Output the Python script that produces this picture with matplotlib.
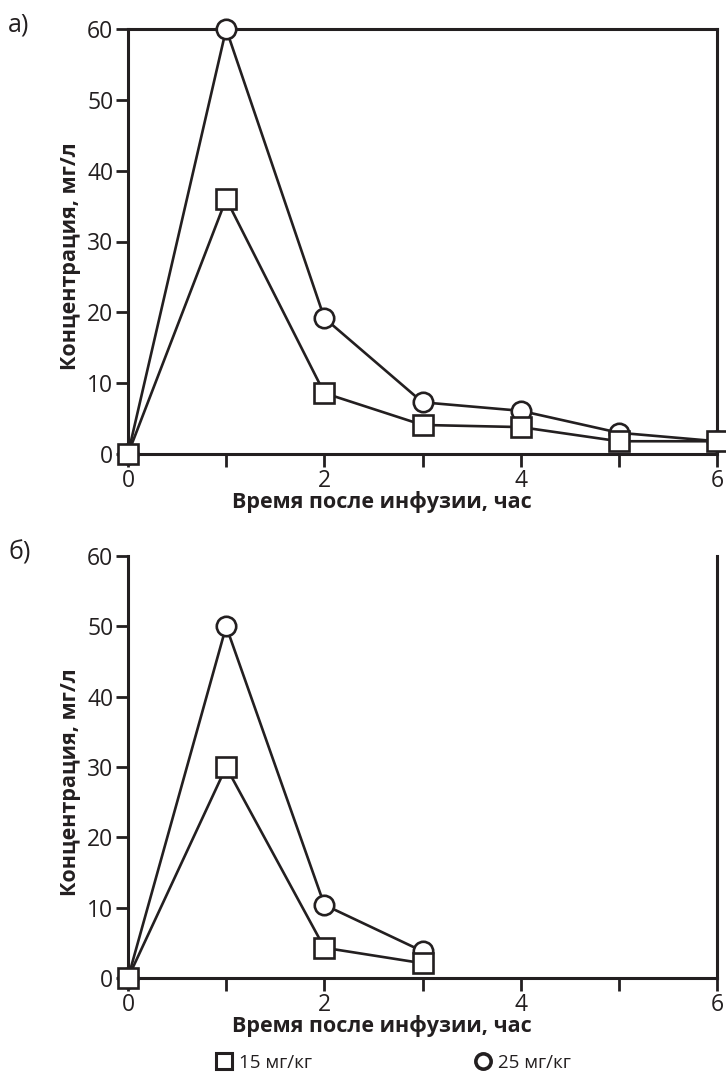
import matplotlib
matplotlib.use("Agg")
import matplotlib.pyplot as plt
from matplotlib.lines import Line2D

plt.rcParams['font.family'] = ['Open Sans', 'DejaVu Sans']

# Data
hours_a = [0, 1, 2, 3, 4, 5, 6]
dose15_a = [0, 36, 8.6, 4.1, 3.8, 1.8, 1.8]
dose25_a = [0, 60, 19.2, 7.3, 6.1, 3.0, 1.8]

hours_b = [0, 1, 2, 3]
dose15_b = [0, 30, 4.3, 2.1]
dose25_b = [0, 50, 10.4, 3.8]

xticks = [0, 1, 2, 3, 4, 5, 6]
xticklabels = ['0', '', '2', '', '4', '', '6']
yticks = [0, 10, 20, 30, 40, 50, 60]

xlabel = 'Время после инфузии, час'
ylabel = 'Концентрация, мг/л'
legend_labels = ['15 мг/кг', '25 мг/кг']

W, H = 726, 1085
fig = plt.figure(figsize=(W / 100, H / 100), dpi=100)

def frac_axes(left, top, right, bottom):
    return fig.add_axes([left / W, 1 - bottom / H, (right - left) / W, (bottom - top) / H])

ax_a = frac_axes(128, 29, 717, 454)
ax_b = frac_axes(128, 556, 717, 978)

lw = 1.9
ms = 14
for ax, hrs, d15, d25, top_spine in [(ax_a, hours_a, dose15_a, dose25_a, True),
                                      (ax_b, hours_b, dose15_b, dose25_b, False)]:
    ax.plot(hrs, d25, color='#231f20', lw=lw, marker='o', ms=ms, mfc='white',
            mec='#231f20', mew=1.9, clip_on=False, zorder=3)
    ax.plot(hrs, d15, color='#231f20', lw=lw, marker='s', ms=ms, mfc='white',
            mec='#231f20', mew=1.9, clip_on=False, zorder=4)
    ax.set_xlim(0, 6)
    ax.set_ylim(0, 60)
    ax.set_xticks(xticks)
    ax.set_xticklabels(xticklabels)
    ax.set_yticks(yticks)
    ax.tick_params(axis='both', direction='out', length=9, width=2, color='#231f20',
                   labelsize=16.5, labelcolor='#231f20', pad=1.5)
    for s in ['left', 'bottom', 'right']:
        ax.spines[s].set_linewidth(2.2)
        ax.spines[s].set_color('#231f20')
    ax.spines['top'].set_visible(top_spine)
    ax.spines['top'].set_linewidth(2.2)
    ax.spines['top'].set_color('#231f20')
    ax.set_xlabel(xlabel, fontsize=15.5, fontweight='bold', color='#231f20')
    ax.xaxis.set_label_coords(0.431, -0.087)
    ax.set_ylabel(ylabel, fontsize=15.5, fontweight='bold', color='#231f20')
    ax.yaxis.set_label_coords(-0.08, 0.465)

fig.text(8 / W, 1 - 25 / H, 'а)', fontsize=18, color='#231f20', va='center', ha='left')
fig.text(8 / W, 1 - 553 / H, 'б)', fontsize=18, color='#231f20', va='center', ha='left')

h1 = Line2D([], [], ls='none', marker='s', ms=11, mfc='white', mec='#231f20', mew=2.2)
h2 = Line2D([], [], ls='none', marker='o', ms=11, mfc='white', mec='#231f20', mew=2.6)
fig.legend([h1, h2], legend_labels, loc='center left', bbox_to_anchor=(198 / W, 1 - 1063 / H),
           ncol=2, frameon=False, fontsize=13.5, handlelength=1.0, handletextpad=0.3,
           columnspacing=8.6, labelcolor='#231f20')

fig.savefig('out.png', dpi=100)
